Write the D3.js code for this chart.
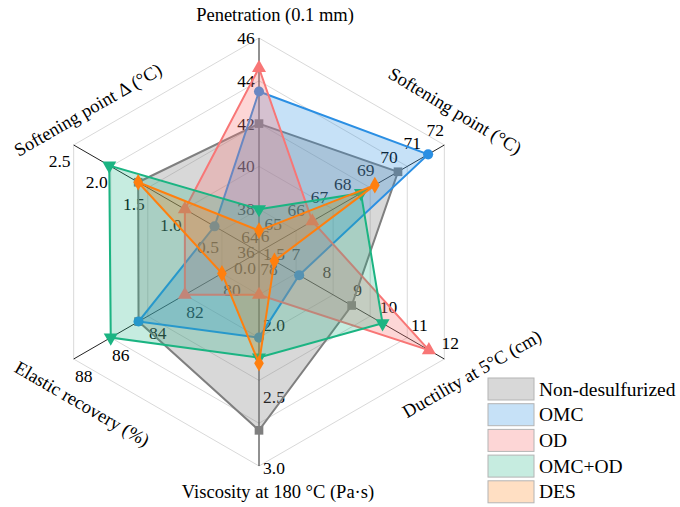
<!DOCTYPE html>
<meta charset="utf-8">
<style>
body { margin: 0; background: #fff; }
svg text { font-family: "Liberation Serif", "DejaVu Serif", serif; }
</style>
<svg width="680" height="507"></svg>
<script src="https://d3js.org/d3.v7.min.js"></script>
<script>
// axes, clockwise from the top
var axisNames = ["Penetration (0.1 mm)", "Softening point (°C)", "Ductility at 5°C (cm)",
                 "Viscosity at 180 °C (Pa·s)", "Elastic recovery (%)", "Softening point Δ (°C)"];
var axisMin = [36, 64, 6, 1.5, 78, 0];
var axisMax = [46, 72, 12, 3.0, 88, 2.5];
var axisTicks = [
  [36, 38, 40, 42, 44, 46],
  [64, 65, 66, 67, 68, 69, 70, 71, 72],
  [6, 7, 8, 9, 10, 11, 12],
  [1.5, 2.0, 2.5, 3.0],
  [78, 80, 82, 84, 86, 88],
  [0.0, 0.5, 1.0, 1.5, 2.0, 2.5]
];
var tickDecimals = [0, 0, 0, 1, 0, 1];

// series values, same order as the axes
var seriesNames = ["Non-desulfurized", "OMC", "OD", "OMC+OD", "DES"];
var nonDesulfurized = [42.0, 70.0, 9.0, 2.75, 84.5, 1.63];
var omc             = [43.5, 71.3, 7.3, 2.10, 84.5, 0.60];
var od              = [44.6, 66.3, 11.5, 1.80, 82.0, 1.00];
var omcOd           = [38.0, 68.4, 10.0, 2.24, 86.0, 2.02];
var des             = [37.0, 69.0, 6.5, 2.28, 80.0, 1.63];
var seriesValues = [nonDesulfurized, omc, od, omcOd, des];

var lineColors = ["#7f7f7f", "#2b8fe3", "#f87676", "#1bb482", "#ff7f0e"];
var fillOpacity = [0.3, 0.27, 0.3, 0.25, 0.25];
var markerTypes = [d3.symbolSquare, d3.symbolCircle, d3.symbolTriangle, d3.symbolTriangle, d3.symbolDiamond];
var markerSizes = [75, 80, 85, 85, 80];
var markerRotate = [0, 0, 0, 180, 0];

var svg = d3.select("svg"),
    cx = 259, cy = 252, R = 214,
    g = svg.append("g").attr("transform", "translate(" + cx + "," + cy + ")");

var n = axisNames.length;
var angle = function(i) { return (-90 + 360 / n * i) * Math.PI / 180; };
var scales = axisNames.map(function(d, i) {
  return d3.scaleLinear().domain([axisMin[i], axisMax[i]]).range([0, R]);
});
function pt(i, v) {
  var r = scales[i](v), a = angle(i);
  return [r * Math.cos(a), r * Math.sin(a)];
}

// grid rings
var rings = d3.range(1, 6).map(function(k) { return R * k / 5; });
g.append("g").selectAll("path")
  .data(rings)
  .enter().append("path")
    .attr("d", function(r) {
      return d3.line()(d3.range(n + 1).map(function(i) {
        var a = angle(i % n); return [r * Math.cos(a), r * Math.sin(a)];
      }));
    })
    .attr("fill", "none")
    .attr("stroke", "#d9d9d9")
    .attr("stroke-width", 1);

// axis lines
g.append("g").selectAll("line")
  .data(axisNames)
  .enter().append("line")
    .attr("x1", 0).attr("y1", 0)
    .attr("x2", function(d, i) { return pt(i, axisMax[i])[0]; })
    .attr("y2", function(d, i) { return pt(i, axisMax[i])[1]; })
    .attr("stroke", "#222")
    .attr("stroke-width", 1);

// tick labels (drawn under the fills)
var labelOffset = [[-13, 0], [-9, -15], [6, -16], [15, 2], [10, 17], [-14, 16]];
axisTicks.forEach(function(ticks, i) {
  g.append("g").selectAll("text")
    .data(ticks)
    .enter().append("text")
      .style("font-size", "17.5px")
      .attr("fill", "#000")
      .attr("x", function(v) { return pt(i, v)[0] + labelOffset[i][0]; })
      .attr("y", function(v) { return pt(i, v)[1] + labelOffset[i][1]; })
      .attr("text-anchor", "middle")
      .attr("dominant-baseline", "central")
      .text(function(v) { return d3.format("." + tickDecimals[i] + "f")(v); });
});

// series
seriesValues.forEach(function(vals, s) {
  var pts = vals.map(function(v, i) { return pt(i, v); });
  var sg = g.append("g");
  sg.append("path")
    .attr("d", d3.line()(pts.concat([pts[0]])))
    .attr("fill", lineColors[s])
    .attr("fill-opacity", fillOpacity[s])
    .attr("stroke", lineColors[s])
    .attr("stroke-width", 2)
    .attr("stroke-linejoin", "miter");
  sg.selectAll("path.m")
    .data(pts)
    .enter().append("path")
      .attr("class", "m")
      .attr("transform", function(p) { return "translate(" + p[0] + "," + p[1] + ") rotate(" + markerRotate[s] + ")"; })
      .attr("d", d3.symbol().type(markerTypes[s]).size(markerSizes[s]))
      .attr("fill", lineColors[s]);
});

// axis titles
var titlePos = [[275, 15, 0], [455, 111, 31], [472, 374, -30], [278, 492, 0], [82, 404, 30], [88, 110, -30]];
svg.append("g").selectAll("text")
  .data(axisNames)
  .enter().append("text")
    .style("font-size", "18.5px")
    .attr("fill", "#000")
    .attr("text-anchor", "middle")
    .attr("dominant-baseline", "central")
    .attr("transform", function(d, i) {
      return "translate(" + titlePos[i][0] + "," + titlePos[i][1] + ") rotate(" + titlePos[i][2] + ")";
    })
    .text(function(d) { return d; });

// legend
var legend = svg.append("g")
  .selectAll("g")
  .data(seriesNames)
  .enter().append("g")
    .attr("transform", function(d, i) { return "translate(488," + (378 + i * 25.7) + ")"; });

legend.append("rect")
    .attr("width", 46)
    .attr("height", 22)
    .attr("fill", function(d, i) { return lineColors[i]; })
    .attr("fill-opacity", function(d, i) { return fillOpacity[i]; })
    .attr("stroke", "#b4b4b4")
    .attr("stroke-width", 1);

legend.append("text")
    .attr("x", 51)
    .attr("y", 11)
    .style("font-size", "19.5px")
    .attr("fill", "#000")
    .attr("dominant-baseline", "central")
    .text(function(d) { return d; });
</script>
